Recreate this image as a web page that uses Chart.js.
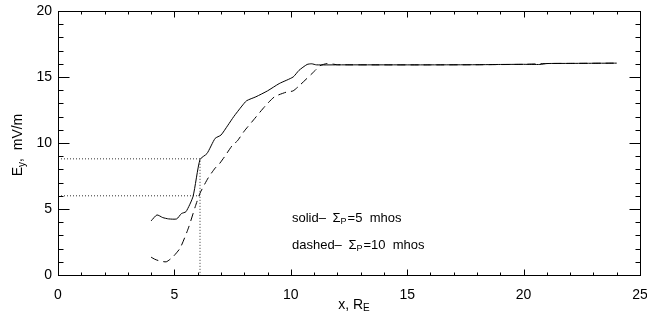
<!DOCTYPE html>
<html>
<head>
<meta charset="utf-8">
<script src="https://cdn.jsdelivr.net/npm/chart.js@4/dist/chart.umd.min.js"></script>
<style>
  html,body{margin:0;padding:0;background:#fff}
  #wrap{width:647px;height:320px}
</style>
</head>
<body>
<div id="wrap"><canvas id="c" width="647" height="320"></canvas></div>
<script>
/* ── data ── */
const solidX  = [4.0,4.25,4.5,4.75,5.1,5.3,5.5,5.8,6.1,6.4,6.75,7.0,7.3,7.55,7.9,8.1,8.5,9.0,9.5,10.1,10.35,10.7,10.9,11.1,12,14,16,18,19,20,20.7,21,22,23,24];
const solidY  = [4.1,4.55,4.35,4.25,4.25,4.65,4.8,5.95,8.75,9.2,10.35,10.6,11.35,12.0,12.8,13.2,13.5,13.95,14.5,15.0,15.5,15.95,16.0,15.92,15.92,15.92,15.92,15.93,15.95,15.96,15.95,16.02,16.03,16.04,16.05];
const dashX   = [4.0,4.15,4.3,4.65,4.95,5.25,5.6,5.9,6.1,6.45,6.75,6.9,7.15,7.5,7.7,8.0,8.4,8.9,9.3,9.8,10.1,10.4,11.05,11.25,11.55,11.8,12,14,16,18,20,21,22,24];
const dashY   = [1.35,1.2,1.1,1.0,1.4,2.05,3.55,5.2,6.2,7.35,8.1,8.35,8.95,9.85,10.15,10.9,11.75,12.8,13.5,13.85,13.95,14.4,15.5,15.85,16.02,15.98,15.93,15.92,15.92,15.93,15.96,16.02,16.03,16.05];
const guide1X = [0,6.1,6.1];
const guide1Y = [8.8,8.8,0];
const guide2X = [0,6.1];
const guide2Y = [6.0,6.0];
const xTicks  = [0,5,10,15,20,25];
const yTicks  = [0,5,10,15,20];
const legendRows = [
  {lead:'solid\u2013 ',  val:'=5  mhos',  x:10.05, y:4.3},
  {lead:'dashed\u2013 ', val:'=10  mhos', x:10.05, y:2.27}
];

const pts = (xs,ys)=>xs.map((x,i)=>({x,y:ys[i]}));
const FONT = '"Liberation Sans", Arial, sans-serif';

/* ── frame, IDL-style inward ticks, titles, annotation ── */
const idlFrame = {
  id:'idlFrame',
  afterDatasetsDraw(chart){
    const {ctx, chartArea:a, scales:{x,y}} = chart;
    const L=Math.round(a.left)+0.5, R=Math.round(a.right)+0.5, T=Math.round(a.top)+0.5, B=Math.round(a.bottom)+0.5;
    ctx.save();
    ctx.strokeStyle='#000'; ctx.lineWidth=1; ctx.setLineDash([]);
    ctx.strokeRect(L,T,R-L,B-T);
    ctx.beginPath();
    for(let v=0; v<=25; v++){
      const px=Math.round(x.getPixelForValue(v))+0.5, len=v%5===0?6:3;
      ctx.moveTo(px,B); ctx.lineTo(px,B-len);
      ctx.moveTo(px,T); ctx.lineTo(px,T+len);
    }
    for(let v=0; v<=20; v++){
      const py=Math.round(y.getPixelForValue(v))+0.5, len=v%5===0?11:5;
      ctx.moveTo(L,py); ctx.lineTo(L+len,py);
      ctx.moveTo(R,py); ctx.lineTo(R-len,py);
    }
    ctx.stroke();

    ctx.fillStyle='#000'; ctx.textBaseline='middle'; ctx.textAlign='left';
    // annotation
    legendRows.forEach(r=>{
      let px=x.getPixelForValue(r.x); const py=y.getPixelForValue(r.y);
      ctx.font='13px '+FONT; ctx.fillText(r.lead,px,py); px+=ctx.measureText(r.lead).width+3;
      ctx.fillText('\u03A3',px,py); px+=ctx.measureText('\u03A3').width;
      ctx.font='9px '+FONT; ctx.fillText('P',px,py+3); px+=ctx.measureText('P').width+1;
      ctx.font='13px '+FONT; ctx.fillText(r.val,px,py);
    });

    // x title
    ctx.font='14px '+FONT;
    const w1=ctx.measureText('x, R').width; ctx.font='10px '+FONT; const w2=ctx.measureText('E').width;
    let tx=(a.left+a.right)/2+5-(w1+w2)/2;
    ctx.font='14px '+FONT; ctx.fillText('x, R',tx,305);
    ctx.font='10px '+FONT; ctx.fillText('E',tx+w1,308);

    // y title
    ctx.translate(18,(a.top+a.bottom)/2+2);
    ctx.rotate(-Math.PI/2);
    ctx.font='14px '+FONT; const e1=ctx.measureText('E').width, e3=ctx.measureText(',  mV/m').width;
    ctx.font='10px '+FONT; const e2=ctx.measureText('y').width;
    let sx=-(e1+e2+e3)/2;
    ctx.font='14px '+FONT; ctx.fillText('E',sx,0);
    ctx.font='10px '+FONT; ctx.fillText('y',sx+e1,4);
    ctx.font='14px '+FONT; ctx.fillText(',  mV/m',sx+e1+e2,0);
    ctx.restore();
  }
};

const line = (data,dash,extra)=>Object.assign({data,borderColor:'#000',borderWidth:1,borderDash:dash,pointRadius:0,fill:false,tension:0.2,showLine:true},extra||{});

new Chart(document.getElementById('c'), {
  type:'scatter',
  data:{ datasets:[
    line(pts(solidX,solidY),[]),
    line(pts(dashX,dashY),[8,5]),
    line(pts(guide1X,guide1Y),[1,2],{tension:0,borderColor:'#333'}),
    line(pts(guide2X,guide2Y),[1,2],{tension:0,borderColor:'#333'})
  ]},
  options:{
    responsive:false, animation:false, devicePixelRatio:1,
    layout:{ padding:{top:11,right:7,left:0,bottom:0} },
    plugins:{ legend:{display:false}, tooltip:{enabled:false} },
    scales:{
      x:{ type:'linear', min:0, max:25,
          afterBuildTicks:s=>{ s.ticks=xTicks.map(v=>({value:v})); },
          afterFit:s=>{ s.height=45; s.paddingLeft=0; s.paddingRight=0; },
          grid:{display:false, drawTicks:false}, border:{display:false},
          ticks:{ color:'#000', padding:12, maxRotation:0, font:{family:FONT,size:14} } },
      y:{ type:'linear', min:0, max:20,
          afterBuildTicks:s=>{ s.ticks=yTicks.map(v=>({value:v})); },
          afterFit:s=>{ s.width=58; s.paddingTop=0; s.paddingBottom=0; },
          grid:{display:false, drawTicks:false}, border:{display:false},
          ticks:{ color:'#000', padding:6, font:{family:FONT,size:14} } }
    }
  },
  plugins:[idlFrame]
});
</script>
</body>
</html>
